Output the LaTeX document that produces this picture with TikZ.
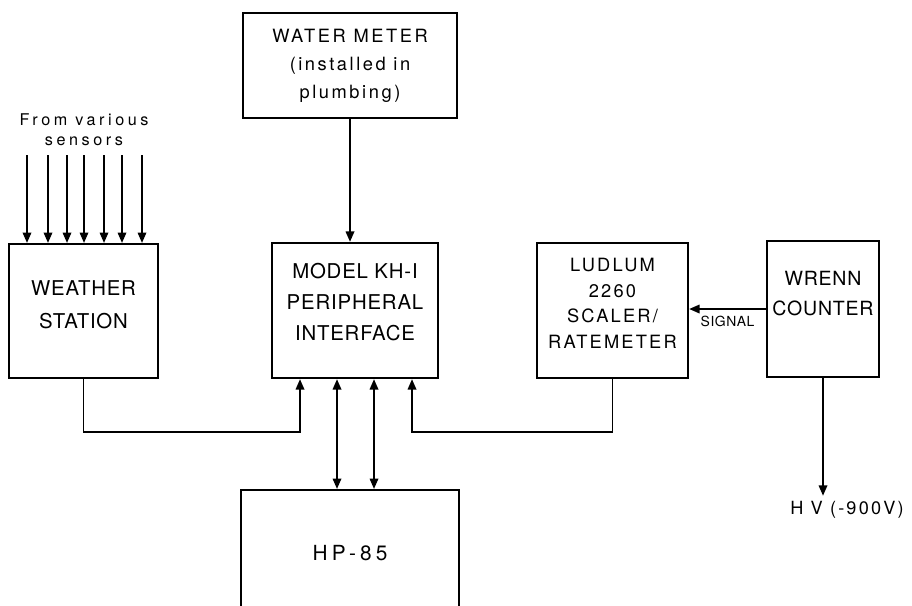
\documentclass[tikz,border=0pt]{standalone}
\usepackage{fontspec}
\setmainfont{TeX Gyre Heros}[LetterSpace=4]
\usetikzlibrary{arrows.meta}

\begin{document}
\begin{tikzpicture}[>={Triangle[length=2.6mm,width=2.1mm]},x=0.025cm,y=-0.025cm,line width=1.4pt,
  box/.style={draw,align=center,inner sep=2pt}]
\useasboundingbox (0,0) rectangle (912,605);
\clip (0,0) rectangle (912,605);
\node[box,minimum width=5.33cm,minimum height=2.63cm,font=\fontsize{13pt}{20pt}\selectfont\addfontfeature{LetterSpace=14}] (wm) at (350,65.5) {WATER METER\\(installed in\\plumbing)};
\node[box,minimum width=3.73cm,minimum height=3.35cm,text depth=9pt,font=\fontsize{14.5pt}{23.4pt}\selectfont] (ws) at (83.5,311) {WEATHER\\STATION};
\node[box,minimum width=4.15cm,minimum height=3.38cm,text depth=12pt,font=\fontsize{14.5pt}{22pt}\selectfont] (kh) at (355,310.5) {MODEL KH-I\\PERIPHERAL\\INTERFACE};
\node[box,minimum width=3.78cm,minimum height=3.38cm,text depth=10pt,font=\fontsize{13pt}{18.2pt}\selectfont\addfontfeature{LetterSpace=12}] (lud) at (612.5,310.5) {LUDLUM\\2260\\SCALER/\\RATEMETER};
\node[box,minimum width=2.8cm,minimum height=3.4cm,text depth=22pt,font=\fontsize{13.9pt}{21.5pt}\selectfont] (wrenn) at (823,309) {WRENN\\COUNTER};
\node[box,minimum width=5.45cm,minimum height=3.15cm,font=\fontsize{14.8pt}{18pt}\selectfont\addfontfeature{LetterSpace=20}] (hp) at (350,553) {HP-85};
\node[align=center,font=\fontsize{11.5pt}{14.2pt}\selectfont\addfontfeature{LetterSpace=22}] (src) at (84,130) {From various\\sensors};
\node[font=\fontsize{12.9pt}{14pt}\selectfont\addfontfeature{LetterSpace=12}] (hv) at (847,510) {H V (-900V)};
\coordinate (bus) at (0,432);
\foreach \x in {27,48,67,84,104,122,142}
  \draw[->] (\x,155) -- (\x,155 |- ws.north);
\draw[->] (wm.south) -- (wm.south |- kh.north);
\draw[->] (ws.south) -- (ws.south |- bus) -| (300,0 |- kh.south);
\draw[->] (lud.south) -- (lud.south |- bus) -| (412,0 |- kh.south);
\foreach \x in {337,374}
  \draw[<->] (\x,0 |- kh.south) -- (\x,0 |- hp.north);
\draw[->] (wrenn.west) -- (wrenn.west -| lud.east) node[midway,below=1pt,font=\fontsize{9.9pt}{12pt}\selectfont] (sig) {SIGNAL};
\draw[->] (wrenn.south) -- (wrenn.south |- hv.north);
\end{tikzpicture}
\end{document}
